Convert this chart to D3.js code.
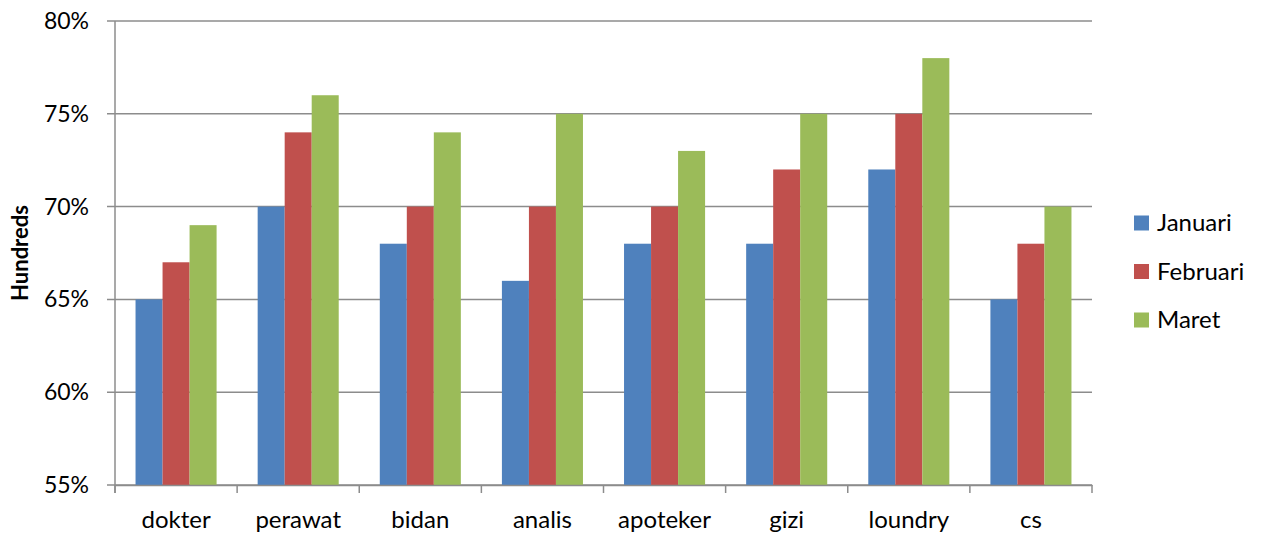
<!DOCTYPE html>
<html>
<head>
<meta charset="utf-8">
<script src="https://cdn.jsdelivr.net/npm/d3@7"></script>
<style>
body { margin: 0; background: #fff; }
text { font-family: Lato, "Open Sans", sans-serif; fill: #000; }
</style>
</head>
<body>
<div id="chart"></div>
<script>
var w = 1261;
var h = 538;

var categories = ['dokter', 'perawat', 'bidan', 'analis', 'apoteker', 'gizi', 'loundry', 'cs'];
var seriesNames = ['Januari', 'Februari', 'Maret'];
var januari = [0.65, 0.70, 0.68, 0.66, 0.68, 0.68, 0.72, 0.65];
var februari = [0.67, 0.74, 0.70, 0.70, 0.70, 0.72, 0.75, 0.68];
var maret = [0.69, 0.76, 0.74, 0.75, 0.73, 0.75, 0.78, 0.70];
var yTicks = [0.55, 0.60, 0.65, 0.70, 0.75, 0.80];
var colors = ['#4F81BD', '#C0504D', '#9BBB59'];

var series = [januari, februari, maret];

var margin = {left: 115, right: 169, top: 21, bottom: 53};

var svg = d3.select("#chart")
	.append("svg")
	.attr("width", w)
	.attr("height", h);

var x = d3.scaleBand()
	.domain(categories)
	.range([margin.left, w - margin.right])
	.paddingInner(0)
	.paddingOuter(0);

var x1 = d3.scaleBand()
	.domain(seriesNames)
	.range([0, x.bandwidth()])
	.paddingOuter(0.76);

var y = d3.scaleLinear()
	.domain([0.55, 0.80])
	.range([h - margin.bottom, margin.top]);

// gridlines
svg.append("g")
	.selectAll("line")
	.data(yTicks)
	.enter()
	.append("line")
	.attr("x1", margin.left - 8)
	.attr("x2", w - margin.right)
	.attr("y1", function (d) { return y(d); })
	.attr("y2", function (d) { return y(d); })
	.style("stroke", "#8c8c8c")
	.style("stroke-width", "1.5px");

// bars
for (var s = 0; s < series.length; s++) {
	svg.append("g")
		.selectAll("rect")
		.data(series[s])
		.enter()
		.append("rect")
		.attr("x", function (d, i) { return x(categories[i]) + x1(seriesNames[s]); })
		.attr("width", x1.bandwidth())
		.attr("y", function (d) { return y(d); })
		.attr("height", function (d) { return y(0.55) - y(d); })
		.style("fill", colors[s]);
}

// y axis line
svg.append("line")
	.attr("x1", margin.left).attr("x2", margin.left)
	.attr("y1", y(0.80)).attr("y2", y(0.55) + 8)
	.style("stroke", "#8c8c8c")
	.style("stroke-width", "1.5px");

// x axis line + labels
var xAxis = d3.axisBottom(x).tickSize(0).tickFormat(function (d) { return d; });
var gx = svg.append("g")
	.attr("transform", "translate(0," + y(0.55) + ")")
	.call(xAxis);
gx.select(".domain").style("stroke", "#8c8c8c").style("stroke-width", "1.5px");
gx.selectAll("text")
	.attr("dy", null)
	.attr("y", 43)
	.style("font-size", "24px")
	.style("font-family", "Lato, sans-serif");

svg.append("g")
	.selectAll("line")
	.data(categories.concat(["end"]))
	.enter()
	.append("line")
	.attr("x1", function (d, i) { return i < categories.length ? x(d) : x.range()[1]; })
	.attr("x2", function (d, i) { return i < categories.length ? x(d) : x.range()[1]; })
	.attr("y1", y(0.55))
	.attr("y2", y(0.55) + 8)
	.style("stroke", "#8c8c8c")
	.style("stroke-width", "1.5px");

// y tick labels
svg.append("g")
	.selectAll("text")
	.data(yTicks)
	.enter()
	.append("text")
	.attr("x", 89)
	.attr("y", function (d) { return y(d) + 8; })
	.attr("text-anchor", "end")
	.style("font-size", "23px")
	.text(d3.format(".0%"));

// y axis title
svg.append("text")
	.attr("transform", "translate(28," + ((y(0.55) + y(0.80)) / 2) + ") rotate(-90)")
	.attr("text-anchor", "middle")
	.style("font-size", "22px")
	.style("font-weight", "bold")
	.text("Hundreds");

// legend
var legend = svg.append("g")
	.selectAll("g")
	.data(seriesNames)
	.enter()
	.append("g")
	.attr("transform", function (d, i) { return "translate(1134," + (223 + i * 48.5) + ")"; });

legend.append("rect")
	.attr("x", 0).attr("y", -7.5)
	.attr("width", 15).attr("height", 15)
	.style("fill", function (d, i) { return colors[i]; });

legend.append("text")
	.attr("x", 23)
	.attr("y", 8)
	.style("font-size", "24px")
	.text(function (d) { return d; });
</script>
</body>
</html>
